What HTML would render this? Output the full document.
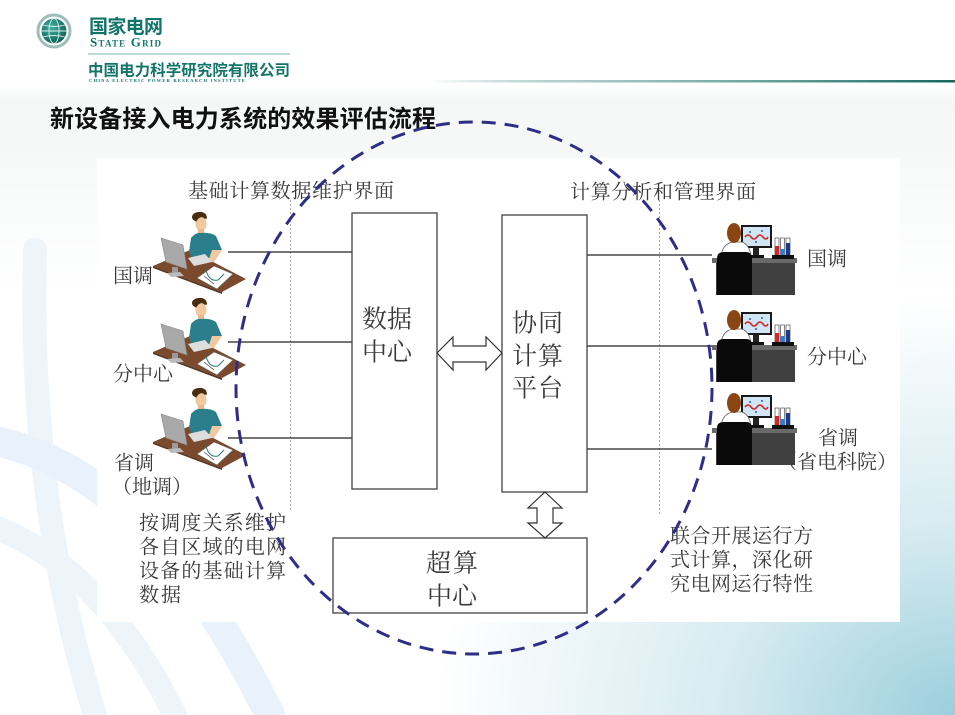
<!DOCTYPE html>
<html>
<head>
<meta charset="utf-8">
<style>
  html,body{margin:0;padding:0;}
  body{width:955px;height:715px;overflow:hidden;position:relative;background:#ffffff;}
  #bg{position:absolute;left:0;top:0;width:955px;height:715px;
    background:
      radial-gradient(ellipse 520px 420px at 100% 100%, rgba(150,204,218,0.95) 0%, rgba(188,222,231,0.6) 45%, rgba(255,255,255,0) 100%),
      linear-gradient(180deg,#ffffff 0px,#ffffff 85px,#f5f7f7 100px,#f7f9f9 160px,#ffffff 300px);
  }
  svg{position:absolute;left:0;top:0;}
  .s{font-family:"Liberation Serif","Noto Serif CJK SC",serif;fill:#3a3a3a;}
</style>
</head>
<body>
<div id="bg"></div>
<svg width="955" height="715" viewBox="0 0 955 715" xmlns="http://www.w3.org/2000/svg">
  <defs>
    <linearGradient id="tl" x1="0" x2="1" y1="0" y2="0">
      <stop offset="0" stop-color="#1a6e66" stop-opacity="0"/>
      <stop offset="0.3" stop-color="#6fa7a1" stop-opacity="0.6"/>
      <stop offset="1" stop-color="#14675f"/>
    </linearGradient>
    <radialGradient id="globe" cx="0.4" cy="0.35" r="0.7">
      <stop offset="0" stop-color="#3fb0a0"/>
      <stop offset="1" stop-color="#0d5f56"/>
    </radialGradient>
  </defs>

  <!-- background pale arcs -->
  <g fill="none" stroke-linecap="round">
    <path d="M 35 250 Q 28 500 95 715" stroke="#edf5fb" stroke-width="24"/>
    <path d="M -10 440 Q 150 470 270 715" stroke="#e9f2fa" stroke-width="30"/>
    <path d="M -10 525 Q 100 565 175 715" stroke="#edf5fb" stroke-width="24"/>
  </g>

  <!-- logo -->
  <circle cx="54" cy="31" r="16" fill="none" stroke="#9cbdb8" stroke-width="3"/>
  <circle cx="54" cy="31" r="12.5" fill="url(#globe)"/>
  <g fill="none" stroke="#ffffff" stroke-width="0.9" opacity="0.85">
    <ellipse cx="54" cy="31" rx="5" ry="12.5"/>
    <line x1="41.5" y1="31" x2="66.5" y2="31"/>
    <path d="M 43 25 Q 54 28 65 25"/>
    <path d="M 43 37 Q 54 34 65 37"/>
  </g>
  <text x="89" y="33" font-family="'Liberation Sans','Noto Sans CJK SC',sans-serif" font-weight="bold" font-size="19" fill="#127568" textLength="74">国家电网</text>
  <text x="90" y="46.5" font-family="'Liberation Serif',serif" font-weight="bold" font-size="13" fill="#127568" style="font-variant:small-caps" textLength="71">State Grid</text>
  <line x1="88" y1="54" x2="290" y2="54" stroke="#a8cdc8" stroke-width="1.5"/>
  <text x="88" y="75.5" font-family="'Liberation Sans','Noto Sans CJK SC',sans-serif" font-weight="bold" font-size="15.5" fill="#127568" textLength="202">中国电力科学研究院有限公司</text>
  <text x="89" y="82" font-family="'Liberation Serif',serif" font-weight="bold" font-size="4.6" fill="#127568" textLength="156">CHINA ELECTRIC POWER RESEARCH INSTITUTE</text>
  <rect x="430" y="80" width="525" height="2.5" fill="url(#tl)"/>

  <!-- title -->
  <text x="50" y="127" font-family="'Liberation Sans','Noto Sans CJK SC',sans-serif" font-weight="bold" font-size="24" fill="#111" textLength="386">新设备接入电力系统的效果评估流程</text>

  <!-- white panel -->
  <rect x="97" y="158" width="803" height="464" fill="#ffffff"/>

  <!-- dotted verticals -->
  <line x1="290.5" y1="200" x2="290.5" y2="512" stroke="#aaaaaa" stroke-width="1" stroke-dasharray="2 2"/>
  <line x1="659.5" y1="200" x2="659.5" y2="515" stroke="#aaaaaa" stroke-width="1" stroke-dasharray="2 2"/>

  <!-- connector lines -->
  <g stroke="#222" stroke-width="1.2">
    <line x1="228" y1="252" x2="352" y2="252"/>
    <line x1="228" y1="342" x2="352" y2="342"/>
    <line x1="228" y1="438" x2="352" y2="438"/>
    <line x1="587" y1="255" x2="712" y2="255"/>
    <line x1="587" y1="346" x2="712" y2="346"/>
    <line x1="587" y1="449" x2="712" y2="449"/>
  </g>

  <!-- boxes -->
  <g fill="#ffffff" stroke="#444" stroke-width="1.3">
    <rect x="352" y="213" width="85" height="276"/>
    <rect x="502" y="215" width="85" height="277"/>
    <rect x="333" y="538" width="254" height="75"/>
  </g>

  <!-- double arrows -->
  <polygon points="437,353 453,337 453,346 486,346 486,337 502,353 486,370 486,362 453,362 453,370" fill="#fff" stroke="#333" stroke-width="1.2" stroke-linejoin="miter"/>
  <polygon points="545,492 562,508 553,508 553,523 562,523 545,538 528,523 537,523 537,508 528,508" fill="#fff" stroke="#333" stroke-width="1.2"/>

  <!-- box texts -->
  <g class="s" font-size="25">
    <text x="362" y="327.5" textLength="50">数据</text>
    <text x="362" y="360.5" textLength="50">中心</text>
    <text x="512" y="331.5" textLength="51">协同</text>
    <text x="512" y="364.5" textLength="51">计算</text>
    <text x="512" y="396.5" textLength="51">平台</text>
    <text x="426" y="571.5" textLength="52">超算</text>
    <text x="427" y="604.5" textLength="50">中心</text>
  </g>

  <!-- labels -->
  <g class="s" font-size="20">
    <text x="188" y="197.6" textLength="206">基础计算数据维护界面</text>
    <text x="570" y="198.6" textLength="186">计算分析和管理界面</text>
    <text x="113" y="282.6" textLength="40">国调</text>
    <text x="113" y="380.6" textLength="60">分中心</text>
    <text x="114" y="469.6" textLength="40">省调</text>
    <text x="112" y="493.6">（地调）</text>
    <text x="139" y="529.6" textLength="147">按调度关系维护</text>
    <text x="139" y="553.6" textLength="147">各自区域的电网</text>
    <text x="139" y="577.6" textLength="147">设备的基础计算</text>
    <text x="139" y="601.6" textLength="42">数据</text>
    <text x="670" y="542.6" textLength="143">联合开展运行方</text>
    <text x="670" y="566.6" textLength="143">式计算，深化研</text>
    <text x="670" y="590.6" textLength="143">究电网运行特性</text>
    <text x="807" y="265.6" textLength="40">国调</text>
    <text x="807" y="363.6" textLength="60">分中心</text>
    <text x="818" y="444.6" textLength="40">省调</text>
    <text x="777" y="468.6">（省电科院）</text>
  </g>

  <!-- left figure template -->
  <g id="lf">
    <polygon points="153,266 190,250 246,279 222,292" fill="#7b4a2c"/>
    <polygon points="153,266 222,292 222,294 153,268" fill="#5a3520"/>
    <polygon points="161,238 183,245 187,269 166,262" fill="#a9a9a9" stroke="#8a8a8a" stroke-width="0.6"/>
    <rect x="172" y="267" width="6" height="6" fill="#999"/>
    <polygon points="167,273 180,272 184,276 171,277" fill="#bbb"/>
    <ellipse cx="199" cy="217" rx="7" ry="5" fill="#4a2c12"/>
    <ellipse cx="201" cy="224" rx="5.5" ry="7" fill="#f2c8a0"/>
    <path d="M 194 216 Q 196 211 202 212 Q 207 213 207 219 L 204 217 Q 199 216 196 222 Z" fill="#4a2c12"/>
    <rect x="198" y="229" width="6" height="5" fill="#e8b88e"/>
    <path d="M 189 252 L 191 238 Q 196 232 201 233 Q 210 232 216 236 L 222 250 L 214 252 L 212 258 L 192 258 Z" fill="#2b7f8c"/>
    <path d="M 212 250 L 222 250 L 214 262 L 208 262 Z" fill="#f2c8a0"/>
    <polygon points="188,258 205,254 212,262 194,266" fill="#dddddd"/>
    <polygon points="197,278 214,266 233,274 217,289" fill="#ffffff" stroke="#666" stroke-width="0.6"/>
    <path d="M 206 270 Q 209 282 218 280 L 224 274" fill="none" stroke="#2a7a80" stroke-width="1"/>
    <path d="M 204 276 L 214 284" stroke="#333" stroke-width="0.6"/>
  </g>
  <use href="#lf" transform="translate(0,86)"/>
  <use href="#lf" transform="translate(0,176)"/>

  <!-- right figure template -->
  <g id="rf">
    <rect x="712" y="258" width="85" height="5" fill="#6a6a6a"/>
    <rect x="716" y="263" width="79" height="32" fill="#404040"/>
    <rect x="741" y="225" width="31" height="23" fill="#1a1a1a"/>
    <rect x="743" y="227" width="27" height="19" fill="#d2e5f4"/>
    <path d="M 745 237 Q 748 233 751 237 Q 754 241 757 237 Q 760 233 763 237 Q 766 241 768 237" fill="none" stroke="#cc2a2a" stroke-width="1.6"/>
    <circle cx="750" cy="232" r="1" fill="#2a5fb0"/>
    <circle cx="762" cy="231" r="1" fill="#2a5fb0"/>
    <circle cx="756" cy="242" r="1" fill="#2a5fb0"/>
    <rect x="753" y="248" width="6" height="8" fill="#222"/>
    <rect x="748" y="255" width="16" height="3" fill="#111"/>
    <rect x="775" y="238" width="4" height="18" fill="#fff" stroke="#333" stroke-width="0.6"/>
    <rect x="780.5" y="238" width="4" height="18" fill="#fff" stroke="#333" stroke-width="0.6"/>
    <rect x="786" y="238" width="4" height="18" fill="#fff" stroke="#333" stroke-width="0.6"/>
    <rect x="775" y="246" width="4" height="10" fill="#d22"/>
    <rect x="780.5" y="249" width="4" height="7" fill="#2a80d8"/>
    <rect x="786" y="243" width="4" height="13" fill="#1a3a8a"/>
    <rect x="772" y="255" width="22" height="4" fill="#111"/>
    <path d="M 721 257 Q 722 244 733 242 L 742 242 Q 750 245 751 257 Z" fill="#fff" stroke="#555" stroke-width="0.7"/>
    <ellipse cx="734" cy="233" rx="7" ry="10" fill="#8b4513"/>
    <path d="M 717 295 L 717 258 Q 717 252 724 252 L 746 252 Q 752 252 752 258 L 752 295 Z" fill="#0a0a0a"/>
  </g>
  <use href="#rf" transform="translate(0,87)"/>
  <use href="#rf" transform="translate(0,170)"/>

  <!-- dashed ellipse -->
  <ellipse cx="474" cy="388" rx="238" ry="266" fill="none" stroke="#2e2e88" stroke-width="3" stroke-dasharray="14 9"/>
</svg>
</body>
</html>
